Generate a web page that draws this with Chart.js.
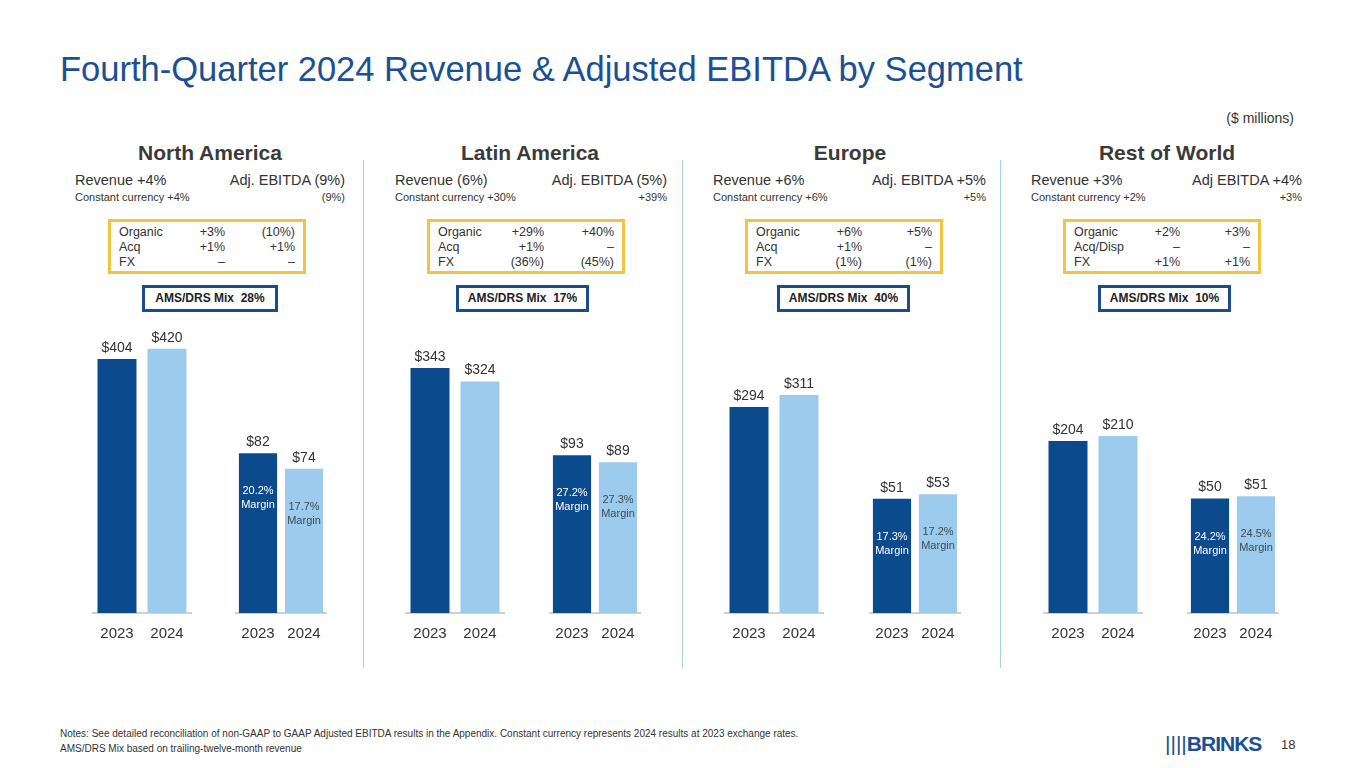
<!DOCTYPE html>
<html>
<head>
<meta charset="utf-8">
<script src="https://cdn.jsdelivr.net/npm/chart.js@4.4.1/dist/chart.umd.min.js"></script>
<style>
  body { margin: 0; width: 1365px; height: 768px; background: #fff; font-family: Arial, "Liberation Sans", sans-serif; position: relative; overflow: hidden; }
  .abs { position: absolute; }
  h1 { position: absolute; left: 60px; top: 50px; margin: 0; font-weight: normal; font-size: 34.5px; color: #1c4f94; }
  .seg { font-weight: bold; font-size: 21px; color: #3a3a3a; text-align: center; width: 280px; }
  .hd { font-size: 14.5px; color: #333; }
  .cc { font-size: 11px; color: #333; }
  .box { border: 3px solid #f5c343; box-sizing: border-box; font-size: 12.5px; color: #333; line-height: 15px; padding: 3px 8px; }
  .box table { border-collapse: collapse; width: 100%; }
  .box td { padding: 0; }
  .box td.r { text-align: right; }
  .mix { border: 3px solid #1d4b8f; box-sizing: border-box; font-weight: bold; font-size: 12px; color: #222; text-align: center; line-height: 21px; }
  .div { width: 1px; background: #a9cdee; top: 160px; height: 508px; }
  canvas { position: absolute; }
</style>
</head>
<body>
<h1>Fourth-Quarter 2024 Revenue &amp; Adjusted EBITDA by Segment</h1>
<div class="abs hd" style="right:71px;top:110px;font-size:14px;">($ millions)</div>
<div class="abs div" style="left:363px"></div>
<div class="abs div" style="left:682px"></div>
<div class="abs div" style="left:1000px"></div>
<div class="abs" style="left:60px;top:726px;font-size:10px;color:#333;line-height:15px;">Notes: See detailed reconciliation of non-GAAP to GAAP Adjusted EBITDA results in the Appendix. Constant currency represents 2024 results at 2023 exchange rates.<br>AMS/DRS Mix based on trailing-twelve-month revenue</div>
<div class="abs" style="left:1165px;top:732px;font-size:21px;font-weight:bold;color:#1c4f94;letter-spacing:-1px;font-family:'Liberation Sans',Arial,sans-serif;"><span style="letter-spacing:0px;font-weight:normal;">||||</span>BRINKS</div>
<div class="abs" style="left:1281px;top:737px;font-size:13px;color:#333;">18</div>
<div id="root"></div>
<script>
const segments = ['North America', 'Latin America', 'Europe', 'Rest of World'];
const years = ['2023', '2024'];
const revenue2023 = [404, 343, 294, 204];
const revenue2024 = [420, 324, 311, 210];
const ebitda2023 = [82, 93, 51, 50];
const ebitda2024 = [74, 89, 53, 51];
const margin2023 = ['20.2%', '27.2%', '17.3%', '24.2%'];
const margin2024 = ['17.7%', '27.3%', '17.2%', '24.5%'];
const revenueHead = ['Revenue +4%', 'Revenue (6%)', 'Revenue +6%', 'Revenue +3%'];
const ebitdaHead = ['Adj. EBITDA (9%)', 'Adj. EBITDA (5%)', 'Adj. EBITDA +5%', 'Adj EBITDA +4%'];
const revenueCC = ['Constant currency +4%', 'Constant currency +30%', 'Constant currency +6%', 'Constant currency +2%'];
const ebitdaCC = ['(9%)', '+39%', '+5%', '+3%'];
const bridgeLabels = [['Organic', 'Acq', 'FX'], ['Organic', 'Acq', 'FX'], ['Organic', 'Acq', 'FX'], ['Organic', 'Acq/Disp', 'FX']];
const bridgeRevenue = [['+3%', '+1%', '–'], ['+29%', '+1%', '(36%)'], ['+6%', '+1%', '(1%)'], ['+2%', '–', '+1%']];
const bridgeEbitda = [['(10%)', '+1%', '–'], ['+40%', '–', '(45%)'], ['+5%', '–', '(1%)'], ['+3%', '–', '+1%']];
const amsMix = ['28%', '17%', '40%', '10%'];
// each panel has its own scale on the slide
const revenueMax = [477, 420, 428, 356];
const ebitdaMax = [154, 177, 134, 131];

// layout
const segCenter = [210, 530, 850, 1167];
const hdLeft = [75, 395, 713, 1031];
const hdRight = [345, 667, 986, 1302];
const boxLeft = [108, 427, 745, 1063];
const mixLeft = [142, 456, 777, 1098];
const revLeft = [92, 405, 724, 1043];
const ebLeft = [235, 549, 869, 1187];

const DARK = '#0c4a8e', LIGHT = '#9dcbed';
const root = document.getElementById('root');
function add(html) { root.insertAdjacentHTML('beforeend', html); }

const valueLabels = {
    id: 'valueLabels',
    afterDatasetsDraw(chart, args, opts) {
        const ctx = chart.ctx;
        const meta = chart.getDatasetMeta(0);
        ctx.save();
        ctx.textAlign = 'center';
        meta.data.forEach((bar, i) => {
            ctx.fillStyle = '#333';
            ctx.font = '14px Arial';
            ctx.textBaseline = 'bottom';
            ctx.fillText('$' + chart.data.datasets[0].data[i], bar.x, bar.y - 4);
            if (opts.margins) {
                ctx.font = '11px Arial';
                ctx.textBaseline = 'middle';
                ctx.fillStyle = i === 0 ? '#fff' : '#3a4a5a';
                ctx.fillText(opts.margins[i], bar.x, bar.y + 38);
                ctx.fillText('Margin', bar.x, bar.y + 52);
            }
        });
        ctx.restore();
    }
};

function makeChart(left, width, values, max, barPct, margins) {
    const c = document.createElement('canvas');
    c.style.left = left + 'px';
    c.style.top = '313px';
    c.style.width = width + 'px';
    c.style.height = '328px';
    root.appendChild(c);
    new Chart(c, {
        type: 'bar',
        data: {
            labels: years,
            datasets: [{ data: values, backgroundColor: [DARK, LIGHT], categoryPercentage: 1, barPercentage: barPct }]
        },
        options: {
            responsive: false,
            animation: false,
            layout: { padding: 0 },
            plugins: { legend: { display: false }, tooltip: { enabled: false }, valueLabels: { margins: margins } },
            scales: {
                x: {
                    grid: { display: false },
                    border: { color: '#d0d0d0', width: 2 },
                    ticks: { font: { size: 15, family: 'Arial' }, color: '#333', padding: 4 },
                    afterFit: s => { s.height = 28; }
                },
                y: { display: false, min: 0, max: max }
            }
        },
        plugins: [valueLabels]
    });
}

segments.forEach((name, i) => {
    add(`<div class="abs seg" style="left:${segCenter[i] - 140}px;top:141px">${name}</div>`);
    add(`<div class="abs hd" style="left:${hdLeft[i]}px;top:172px">${revenueHead[i]}</div>`);
    add(`<div class="abs hd" style="right:${1365 - hdRight[i]}px;top:172px">${ebitdaHead[i]}</div>`);
    add(`<div class="abs cc" style="left:${hdLeft[i]}px;top:191px">${revenueCC[i]}</div>`);
    add(`<div class="abs cc" style="right:${1365 - hdRight[i]}px;top:191px">${ebitdaCC[i]}</div>`);
    let rows = bridgeLabels[i].map((l, k) =>
        `<tr><td>${l}</td><td class="r">${bridgeRevenue[i][k]}</td><td class="r" style="width:70px">${bridgeEbitda[i][k]}</td></tr>`).join('');
    add(`<div class="abs box" style="left:${boxLeft[i]}px;top:219px;width:198px;height:55px"><table>${rows}</table></div>`);
    add(`<div class="abs mix" style="left:${mixLeft[i]}px;top:285px;width:${i === 0 ? 136 : 133}px;height:27px">AMS/DRS Mix&nbsp; ${amsMix[i]}</div>`);
    makeChart(revLeft[i], 100, [revenue2023[i], revenue2024[i]], revenueMax[i], 0.78);
    makeChart(ebLeft[i], 92, [ebitda2023[i], ebitda2024[i]], ebitdaMax[i], 0.83, [margin2023[i], margin2024[i]]);
});
</script>
</body>
</html>
